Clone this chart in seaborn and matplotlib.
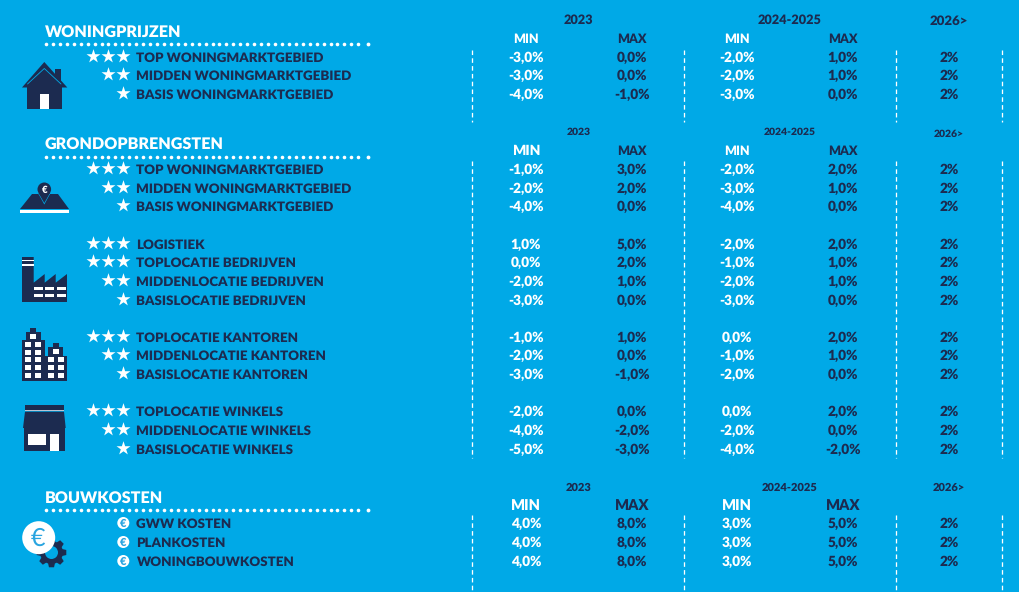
import numpy as np
import pandas as pd
import matplotlib
matplotlib.use("Agg")
import matplotlib.pyplot as plt
from matplotlib.patches import Polygon, Rectangle, Circle
import seaborn as sns

BLAUW = "#00a9e7"
NAVY = "#1c2b50"
WIT = "#ffffff"

sns.set_theme(style="white", rc={"figure.facecolor": BLAUW, "axes.facecolor": BLAUW})
plt.rcParams["font.family"] = ["Lato", "DejaVu Sans"]
plt.rcParams["font.weight"] = "heavy"
plt.rcParams["text.hinting"] = "no_hinting"

# data
labels = ["TOP WONINGMARKTGEBIED", "MIDDEN WONINGMARKTGEBIED", "BASIS WONINGMARKTGEBIED",
          "TOP WONINGMARKTGEBIED", "MIDDEN WONINGMARKTGEBIED", "BASIS WONINGMARKTGEBIED",
          "LOGISTIEK", "TOPLOCATIE BEDRIJVEN", "MIDDENLOCATIE BEDRIJVEN", "BASISLOCATIE BEDRIJVEN",
          "TOPLOCATIE KANTOREN", "MIDDENLOCATIE KANTOREN", "BASISLOCATIE KANTOREN",
          "TOPLOCATIE WINKELS", "MIDDENLOCATIE WINKELS", "BASISLOCATIE WINKELS",
          "GWW KOSTEN", "PLANKOSTEN", "WONINGBOUWKOSTEN"]
ratings = [3, 2, 1, 3, 2, 1, 3, 3, 2, 1, 3, 2, 1, 3, 2, 1, 0, 0, 0]
min_2023 = [-3, -3, -4, -1, -2, -4, 1, 0, -2, -3, -1, -2, -3, -2, -4, -5, 4, 4, 4]
max_2023 = [0, 0, -1, 3, 2, 0, 5, 2, 1, 0, 1, 0, -1, 0, -2, -3, 8, 8, 8]
min_2024 = [-2, -2, -3, -2, -3, -4, -2, -1, -2, -3, 0, -1, -2, 0, -2, -4, 3, 3, 3]
max_2024 = [1, 1, 0, 2, 1, 0, 2, 1, 1, 0, 2, 1, 0, 2, 0, -2, 5, 5, 5]
vanaf_2026 = [2] * 19
secties = ["WONINGPRIJZEN", "GRONDOPBRENGSTEN", "BOUWKOSTEN"]
perioden = ["2023", "2024-2025", "2026>"]

# layout in pixels
rij_y = [57, 75, 94, 169, 188, 206, 244, 262, 281, 300, 337, 355, 374, 411, 430, 449, 523, 542, 561]
sectie_y = [37, 149, 503]
stip_y = [44.3, 157.3, 510]
periode_y = [[23.5, 135, 491], [23.5, 135, 491], [24.5, 137, 491]]
periode_pt = [[9.2, 7.5, 8], [9.2, 7.5, 8], [9.5, 7.5, 8]]
minmax_y = [42.8, 155, 510]
minmax_pt = [[9, 10, 10.5], [9, 9, 10.5]]
streep_x = [472.5, 684.5, 896.5, 1002.5]
streep_y = [(50, 122), (161, 458), (515, 592)]
kolom_x = [526, 632, 737, 843, 949]
PX = 72 / 100


def pct(v):
    return f"{v:.1f}%".replace(".", ",")


def poly(ax, punten, kleur=NAVY):
    ax.add_patch(Polygon(punten, closed=True, fc=kleur, ec="none"))


def rect(ax, x0, y0, x1, y1, kleur=NAVY):
    ax.add_patch(Rectangle((x0, y0), x1 - x0, y1 - y0, fc=kleur, ec="none"))


def teken_huis(ax):
    rect(ax, 55, 69, 61, 82)
    poly(ax, [(44.3, 62), (67.3, 87.5), (22, 87.5)])
    rect(ax, 27, 87, 62, 108.5)
    ax.plot([27.5, 44.3, 61], [84, 68.5, 84], color=BLAUW, lw=0.6)
    rect(ax, 40.5, 94, 48.7, 108.5, WIT)


def teken_kaart(ax):
    poly(ax, [(32, 194), (58, 194), (69, 209), (20, 209)])
    rect(ax, 20, 210, 69, 212.5, WIT)
    poly(ax, [(38, 193), (50.6, 193), (44.3, 204.5)], BLAUW)
    ax.add_patch(Circle((44.3, 189.3), 7.5, fc=BLAUW, ec="none"))
    poly(ax, [(38.5, 193), (50, 193), (44.3, 203)])
    ax.add_patch(Circle((44.3, 189.3), 6.8, fc=NAVY, ec="none"))
    ax.text(44.3, 192.8, "€", color=WIT, fontsize=7, ha="center", va="baseline")


def teken_fabriek(ax):
    poly(ax, [(22, 257), (33.7, 257), (33.7, 282.7), (44.7, 274), (44.7, 282.7), (55.7, 274),
              (55.7, 282.7), (67, 274), (67, 302), (22, 302)])
    rect(ax, 22, 259.7, 33.7, 261.3, WIT)
    rect(ax, 22, 263.5, 33.7, 266, WIT)
    for x0, x1 in [(34, 43.3), (45, 54), (56.7, 66)]:
        rect(ax, x0, 287, x1, 290, WIT)
        rect(ax, x0, 294, x1, 297, WIT)


def teken_kantoren(ax):
    rect(ax, 30.3, 328, 36, 333)
    rect(ax, 26, 332, 41, 341)
    rect(ax, 22, 340, 45, 381)
    rect(ax, 53, 343, 59, 348)
    rect(ax, 48, 347.3, 63.3, 357)
    rect(ax, 45, 356, 67, 381)
    rect(ax, 30.3, 334, 36, 339, WIT)
    rect(ax, 53, 349, 59, 354, WIT)
    for y0 in [342, 350, 357, 365, 373]:
        for x0 in [25, 35]:
            rect(ax, x0, y0, x0 + 6, y0 + 5, WIT)
    for y0 in [357, 365, 373]:
        for x0 in [48, 58]:
            rect(ax, x0, y0, x0 + 6, y0 + 5, WIT)


def teken_winkel(ax):
    rect(ax, 25, 405, 64, 409.5)
    rect(ax, 25, 409.7, 64, 410.8, "#b8c4d4")
    poly(ax, [(25, 411.7), (64, 411.7), (65.7, 428), (23, 428)])
    rect(ax, 24, 427, 65, 450.5)
    rect(ax, 28.3, 434, 46, 445, WIT)
    rect(ax, 50, 434, 59, 450.5, WIT)


def teken_tandwiel(ax):
    cx, cy = 51.5, 552.5
    hoeken = np.linspace(0, 2 * np.pi, 8, endpoint=False)
    punten = []
    for h in hoeken:
        for d, r in [(-0.30, 11.5), (-0.17, 15), (0.17, 15), (0.30, 11.5)]:
            punten.append((cx + r * np.cos(h + d), cy + r * np.sin(h + d)))
    poly(ax, punten)
    ax.add_patch(Circle((cx, cy), 6.5, fc=BLAUW, ec="none"))
    ax.add_patch(Circle((38.7, 537.7), 16.5, fc=WIT, ec="none"))
    ax.text(38.3, 546, "€", color="#2aa5e0", fontsize=18, ha="center", va="baseline",
            fontweight="normal")


fig = plt.figure(figsize=(10.2, 5.92), dpi=100)
ax = fig.add_axes([0, 0, 1, 1])
ax.set_xlim(0, 1020)
ax.set_ylim(592, 0)
ax.axis("off")

# sterren
sterren = pd.DataFrame([{"x": 123.3 - 15.3 * i, "y": y - 1}
                        for y, n in zip(rij_y, ratings) for i in range(n)])
sns.scatterplot(data=sterren, x="x", y="y", marker="*", s=112, color=WIT, linewidth=0,
                ax=ax, legend=False)

# euro bolletjes
for y, n in zip(rij_y, ratings):
    if n == 0:
        ax.add_patch(Circle((123.3, y), 6, fc=WIT, ec="none"))
        ax.text(123.3, y + 3.6, "€", color="#2aa5e0", fontsize=8, ha="center", va="baseline")

# rijen
for i, y in enumerate(rij_y):
    ax.text(136.5, y + 4.8, labels[i], color=NAVY, fontsize=9.6, ha="left", va="baseline")
    ax.text(kolom_x[0], y + 4.8, pct(min_2023[i]), color=WIT, fontsize=9.8, ha="center", va="baseline")
    ax.text(kolom_x[1], y + 4.8, pct(max_2023[i]), color=NAVY, fontsize=9.8, ha="center", va="baseline")
    ax.text(kolom_x[2], y + 4.8, pct(min_2024[i]), color=WIT, fontsize=9.8, ha="center", va="baseline")
    ax.text(kolom_x[3], y + 4.8, pct(max_2024[i]), color=NAVY, fontsize=9.8, ha="center", va="baseline")
    ax.text(kolom_x[4], y + 4.8, f"{vanaf_2026[i]}%", color=NAVY, fontsize=9.8, ha="center", va="baseline")

# secties
for s, naam in enumerate(secties):
    ax.text(45, sectie_y[s], naam, color=WIT, fontsize=11.6, ha="left", va="baseline")
    ax.plot(np.arange(46, 359, 6.94), [stip_y[s]] * 46, "o", ms=3.6 * PX, color=WIT, mew=0)
    ax.plot([368], [stip_y[s]], "o", ms=3.8 * PX, color=WIT, mew=0)
    for k, (p, x) in enumerate(zip(perioden, [578.5, 790, 948.5])):
        ax.text(x, periode_y[k][s], p, color=NAVY, fontsize=periode_pt[k][s], ha="center", va="baseline")
    for j, (x, t, kl) in enumerate(zip(kolom_x[:4], ["MIN", "MAX", "MIN", "MAX"], [WIT, NAVY, WIT, NAVY])):
        pt = 9 if s == 1 and j > 0 else (minmax_pt[j % 2][s])
        ax.text(x, minmax_y[s], t, color=kl, fontsize=pt, ha="center", va="baseline")

# stippellijnen kolommen
for x in streep_x:
    for y0, y1 in streep_y:
        ax.plot([x, x], [y0, y1], color=WIT, lw=1.3 * PX, linestyle=(0, (3.5, 2.5)))

teken_huis(ax)
teken_kaart(ax)
teken_fabriek(ax)
teken_kantoren(ax)
teken_winkel(ax)
teken_tandwiel(ax)

fig.savefig("out.png", dpi=100, facecolor=BLAUW)
